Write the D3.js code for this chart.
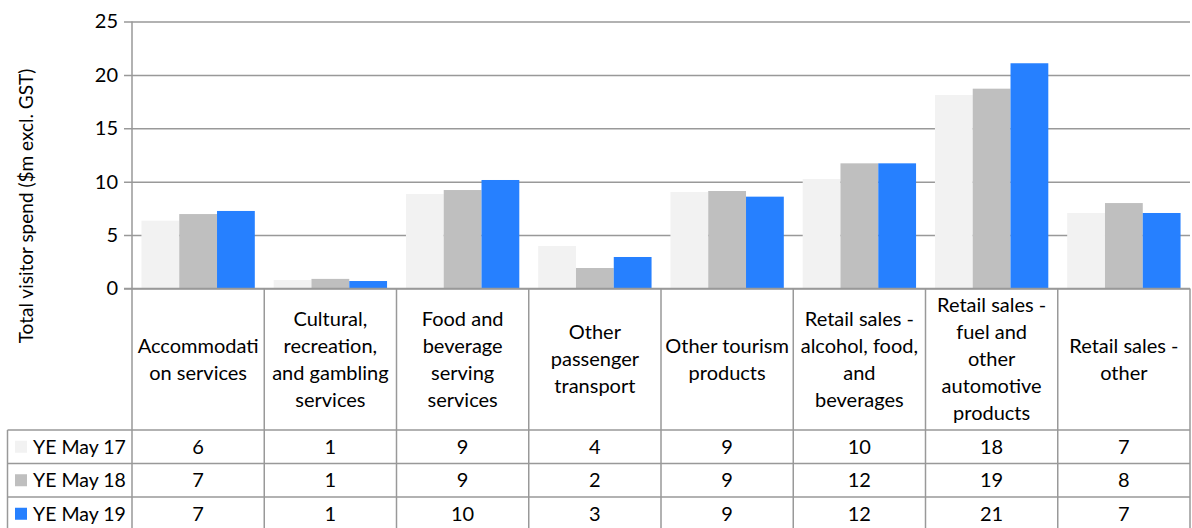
<!DOCTYPE html>
<html>
<head>
<meta charset="utf-8">
<script src="https://cdn.jsdelivr.net/npm/d3@7"></script>
<style>
  html, body { margin: 0; padding: 0; background: #fff; }
  svg { display: block; font-family: Lato, "Open Sans", sans-serif; }
</style>
</head>
<body>
<svg id="chart" width="1192" height="528"></svg>
<script>
// Visitor spend by product category, three years ending May
const categories = [
  ["Accommodati", "on services"],
  ["Cultural,", "recreation,", "and gambling", "services"],
  ["Food and", "beverage", "serving", "services"],
  ["Other", "passenger", "transport"],
  ["Other tourism", "products"],
  ["Retail sales -", "alcohol, food,", "and", "beverages"],
  ["Retail sales -", "fuel and", "other", "automotive", "products"],
  ["Retail sales -", "other"]
];
const seriesNames = ["YE May 17", "YE May 18", "YE May 19"];
const ye17 = [6.35, 0.8, 8.85, 3.98, 9.04, 10.25, 18.12, 7.07];
const ye18 = [6.97, 0.9, 9.22, 1.92, 9.13, 11.72, 18.71, 8.0];
const ye19 = [7.26, 0.7, 10.16, 2.95, 8.6, 11.72, 21.09, 7.07];
const yTicks = [0, 5, 10, 15, 20, 25];
const yTitle = "Total visitor spend ($m excl. GST)";

const series = [ye17, ye18, ye19];
const colors = ["#f2f2f2", "#bfbfbf", "#2680ff"];

const svg = d3.select("#chart");
const plotLeft = 132, plotRight = 1190;
const plotTop = 21.5, plotBottom = 288.5;
const headerBottom = 430;
const rowH = 33.5;
const tableLeft = 7.5;
const lineColor = "#999999";
const textColor = "#000000";

const x0 = d3.scaleBand().domain(d3.range(categories.length)).range([plotLeft, plotRight]).paddingInner(0).paddingOuter(0);
const x1 = d3.scaleBand().domain(d3.range(series.length)).range([0, x0.bandwidth()]).paddingInner(0).paddingOuter(0.25);
const y = d3.scaleLinear().domain([0, 25]).range([plotBottom, plotTop]);

// Gridlines and value ticks
const yAxis = d3.axisLeft(y).tickValues(yTicks).tickSize(-(plotRight - plotLeft)).tickFormat(d3.format("d")).tickPadding(14);
const gy = svg.append("g").attr("transform", `translate(${plotLeft},0)`).call(yAxis);
gy.select(".domain").remove();
gy.selectAll(".tick line").attr("stroke", lineColor).attr("stroke-width", 1.5).attr("x1", -8);
gy.selectAll(".tick text").attr("font-size", 20).attr("fill", textColor).attr("font-family", "Lato, sans-serif");

// Bars
const groups = svg.append("g").selectAll("g")
  .data(categories.map((c, i) => i))
  .join("g")
  .attr("transform", i => `translate(${x0(i)},0)`);
groups.selectAll("rect")
  .data(i => series.map((s, k) => ({ k, v: s[i] })))
  .join("rect")
  .attr("x", d => x1(d.k))
  .attr("width", x1.bandwidth())
  .attr("y", d => y(d.v))
  .attr("height", d => y(0) - y(d.v))
  .attr("fill", d => colors[d.k]);

// Value axis line and category baseline
svg.append("line").attr("x1", plotLeft).attr("x2", plotLeft).attr("y1", plotTop).attr("y2", plotBottom)
  .attr("stroke", lineColor).attr("stroke-width", 1.5);
svg.append("line").attr("x1", plotLeft - 8).attr("x2", plotRight).attr("y1", plotBottom).attr("y2", plotBottom)
  .attr("stroke", lineColor).attr("stroke-width", 1.5);

// Data table grid
const tableBottom = headerBottom + rowH * 3 + 4;
const grid = svg.append("g").attr("stroke", lineColor).attr("stroke-width", 1.5);
d3.range(categories.length + 1).forEach(i => {
  const xx = i < categories.length ? x0(i) : plotRight;
  grid.append("line").attr("x1", xx).attr("x2", xx).attr("y1", plotBottom).attr("y2", tableBottom);
});
d3.range(3).forEach(r => {
  const yy = headerBottom + r * rowH;
  grid.append("line").attr("x1", tableLeft).attr("x2", plotRight).attr("y1", yy).attr("y2", yy);
});
grid.append("line").attr("x1", tableLeft).attr("x2", tableLeft).attr("y1", headerBottom).attr("y2", tableBottom);

// Category headers
const lineH = 27;
const headerMid = (plotBottom + headerBottom) / 2;
categories.forEach((lines, i) => {
  const cx = x0(i) + x0.bandwidth() / 2;
  const t = svg.append("text").attr("text-anchor", "middle").attr("font-size", 20).attr("fill", textColor);
  lines.forEach((ln, j) => {
    t.append("tspan").attr("x", cx)
      .attr("y", headerMid + (j - (lines.length - 1) / 2) * lineH)
      .attr("dy", "0.35em").text(ln);
  });
});

// Table rows: legend key and rounded values
const fmt = d3.format(".0f");
series.forEach((s, r) => {
  const cy = headerBottom + r * rowH + rowH / 2;
  svg.append("rect").attr("x", 15).attr("y", cy - 6).attr("width", 12).attr("height", 12).attr("fill", colors[r]);
  svg.append("text").attr("x", 33).attr("y", cy).attr("dy", "0.35em")
    .attr("font-size", 19.5).attr("fill", textColor).text(seriesNames[r]);
  s.forEach((v, i) => {
    svg.append("text").attr("x", x0(i) + x0.bandwidth() / 2).attr("y", cy).attr("dy", "0.35em")
      .attr("text-anchor", "middle").attr("font-size", 20).attr("fill", textColor).text(fmt(v));
  });
});

// Value axis title
svg.append("text")
  .attr("transform", `translate(33,206) rotate(-90)`)
  .attr("text-anchor", "middle").attr("font-size", 19).attr("fill", textColor)
  .text(yTitle);
</script>
</body>
</html>
